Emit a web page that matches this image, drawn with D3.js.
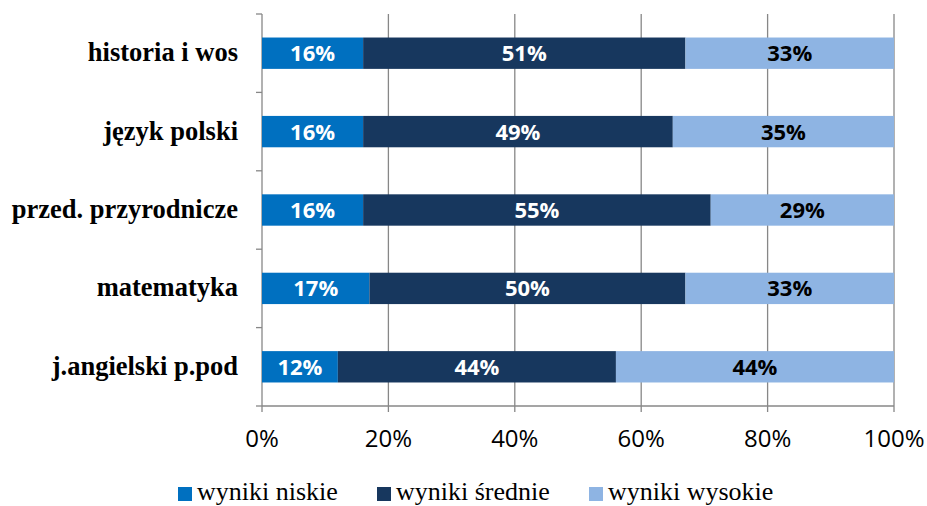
<!DOCTYPE html>
<html>
<head>
<meta charset="utf-8">
<script src="https://cdn.jsdelivr.net/npm/d3@7"></script>
<style>
  html, body { margin: 0; padding: 0; background: #fff; }
</style>
</head>
<body>
<svg id="chart" width="927" height="506"></svg>
<script>
// categories top to bottom
const categories = ["historia i wos", "język polski", "przed. przyrodnicze", "matematyka", "j.angielski p.pod"];
const seriesNames = ["wyniki niskie", "wyniki średnie", "wyniki wysokie"];
const niskie = [16, 16, 16, 17, 12];
const srednie = [51, 49, 55, 50, 44];
const wysokie = [33, 35, 29, 33, 44];
const xTicks = [0, 20, 40, 60, 80, 100];

const colors = ["#0070C0", "#17375E", "#8EB4E3"];
const labelColors = ["#ffffff", "#ffffff", "#000000"];

const svg = d3.select("#chart");
const margin = { left: 262, right: 33, top: 14, bottom: 100 };
const width = 927, height = 506;

const x = d3.scaleLinear().domain([0, 100]).range([margin.left, width - margin.right]);
const y = d3.scaleBand().domain(categories).range([margin.top, height - margin.bottom]).paddingInner(0.6).paddingOuter(0.3);

// build stacked rows
const rows = categories.map((c, i) => ({ cat: c, s0: niskie[i], s1: srednie[i], s2: wysokie[i] }));
const stack = d3.stack().keys(["s0", "s1", "s2"]);
const stacked = stack(rows);

// gridlines
svg.append("g")
  .selectAll("line")
  .data(xTicks)
  .join("line")
  .attr("x1", d => x(d)).attr("x2", d => x(d))
  .attr("y1", margin.top).attr("y2", height - margin.bottom + 6)
  .attr("stroke", "#878787").attr("stroke-width", 1.3);

// y axis ticks at band boundaries
const step = (height - margin.bottom - margin.top) / categories.length;
svg.append("g")
  .selectAll("line")
  .data(d3.range(categories.length + 1))
  .join("line")
  .attr("x1", margin.left - 6).attr("x2", margin.left)
  .attr("y1", d => margin.top + d * step).attr("y2", d => margin.top + d * step)
  .attr("stroke", "#878787").attr("stroke-width", 1.3);

// bottom axis line
svg.append("line")
  .attr("x1", margin.left).attr("x2", x(100))
  .attr("y1", height - margin.bottom).attr("y2", height - margin.bottom)
  .attr("stroke", "#878787").attr("stroke-width", 1.3);

// bars
const layers = svg.append("g")
  .selectAll("g")
  .data(stacked)
  .join("g")
  .attr("fill", (d, i) => colors[i]);

layers.selectAll("rect")
  .data(d => d)
  .join("rect")
  .attr("x", d => x(d[0]))
  .attr("y", d => y(d.data.cat))
  .attr("width", d => x(d[1]) - x(d[0]))
  .attr("height", y.bandwidth());

// bar labels
svg.append("g")
  .selectAll("g")
  .data(stacked)
  .join("g")
  .attr("fill", (d, i) => labelColors[i])
  .selectAll("text")
  .data(d => d)
  .join("text")
  .attr("x", d => (x(d[0]) + x(d[1])) / 2)
  .attr("y", d => y(d.data.cat) + y.bandwidth() / 2)
  .attr("dy", "0.36em")
  .attr("text-anchor", "middle")
  .style("font-family", "'Open Sans', sans-serif")
  .style("font-weight", "bold")
  .style("font-size", "22px")
  .text(d => (d[1] - d[0]) + "%");

// category labels
svg.append("g")
  .selectAll("text")
  .data(categories)
  .join("text")
  .attr("x", margin.left - 24)
  .attr("y", d => y(d) + y.bandwidth() / 2)
  .attr("dy", "0.3em")
  .attr("text-anchor", "end")
  .style("font-family", "'Liberation Serif', serif")
  .style("font-weight", "bold")
  .style("font-size", "26.5px")
  .text(d => d);

// x tick labels
svg.append("g")
  .selectAll("text")
  .data(xTicks)
  .join("text")
  .attr("x", d => x(d))
  .attr("y", 447)
  .attr("text-anchor", "middle")
  .style("font-family", "'Open Sans', sans-serif")
  .style("font-size", "24px")
  .attr("fill", "#000")
  .text(d => d + "%");

// legend
const legendX = [178, 377, 589];
const legend = svg.append("g")
  .selectAll("g")
  .data(seriesNames)
  .join("g")
  .attr("transform", (d, i) => `translate(${legendX[i]},487)`);

legend.append("rect")
  .attr("width", 14).attr("height", 14)
  .attr("fill", (d, i) => colors[i]);

legend.append("text")
  .attr("x", 19).attr("y", 13)
  .style("font-family", "'Liberation Serif', serif")
  .style("font-size", "26px")
  .text(d => d);
</script>
</body>
</html>
